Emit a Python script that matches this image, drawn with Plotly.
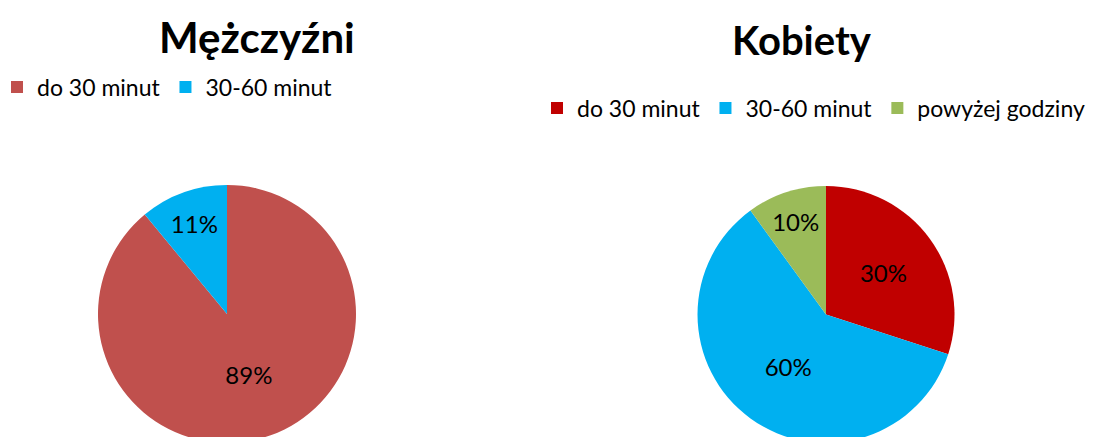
import plotly.graph_objects as go

# Data
men_labels = ["do 30 minut", "30-60 minut"]
men_values = [89, 11]
men_colors = ["#C0504D", "#00B0F0"]

# zero-width space keeps the women's legend entries separate from the men's
women_labels = ["do 30 minut\u200b", "30-60 minut\u200b", "powyżej godziny"]
women_values = [30, 60, 10]
women_colors = ["#C00000", "#00B0F0", "#9BBB59"]

W, H = 1113, 450
FONT = "Lato, Carlito, 'Open Sans', sans-serif"

def px_x(a, b):
    return [a / W, b / W]

def px_y(top, bottom):
    return [(H - bottom) / H, (H - top) / H]

fig = go.Figure()
fig.add_trace(go.Pie(
    labels=men_labels, values=men_values,
    marker=dict(colors=men_colors, line=dict(width=0)),
    sort=False, direction="clockwise", rotation=0,
    textinfo="percent", textposition="inside", insidetextorientation="horizontal",
    textfont=dict(family=FONT, size=24, color="black"),
    domain=dict(x=px_x(98, 356), y=px_y(185, 443)),
    legend="legend", hoverinfo="label+percent",
))
fig.add_trace(go.Pie(
    labels=women_labels, values=women_values,
    marker=dict(colors=women_colors, line=dict(width=0)),
    sort=False, direction="clockwise", rotation=0,
    textinfo="percent", textposition="inside", insidetextorientation="horizontal",
    textfont=dict(family=FONT, size=24, color="black"),
    domain=dict(x=px_x(697, 955), y=px_y(186, 443)),
    legend="legend2", hoverinfo="label+percent",
))

fig.update_layout(
    width=W, height=H,
    margin=dict(l=0, r=0, t=0, b=0, autoexpand=False),
    paper_bgcolor="white", plot_bgcolor="white",
    font=dict(family=FONT, size=24, color="black"),
    uniformtext=dict(minsize=24, mode="show"),
    legend=dict(orientation="h", x=-3 / W, xanchor="left", y=1 - 87 / H, yanchor="middle",
                font=dict(family=FONT, size=23, color="black"),
                itemclick=False, bgcolor="rgba(0,0,0,0)", tracegroupgap=0),
    legend2=dict(orientation="h", x=537 / W, xanchor="left", y=1 - 108 / H, yanchor="middle",
                 font=dict(family=FONT, size=23, color="black"),
                 itemclick=False, bgcolor="rgba(0,0,0,0)", tracegroupgap=0),
    annotations=[
        dict(text="<b>Mężczyźni</b>", x=257 / W, y=1 - 37 / H, xref="paper", yref="paper",
             xanchor="center", yanchor="middle", showarrow=False,
             font=dict(family=FONT, size=42, color="black")),
        dict(text="<b>Kobiety</b>", x=802 / W, y=1 - 40 / H, xref="paper", yref="paper",
             xanchor="center", yanchor="middle", showarrow=False,
             font=dict(family=FONT, size=40, color="black")),
    ],
)

fig.write_html("out.html", config={"displayModeBar": False},
               post_script="document.body.style.overflow='hidden';document.body.style.margin='0';")
